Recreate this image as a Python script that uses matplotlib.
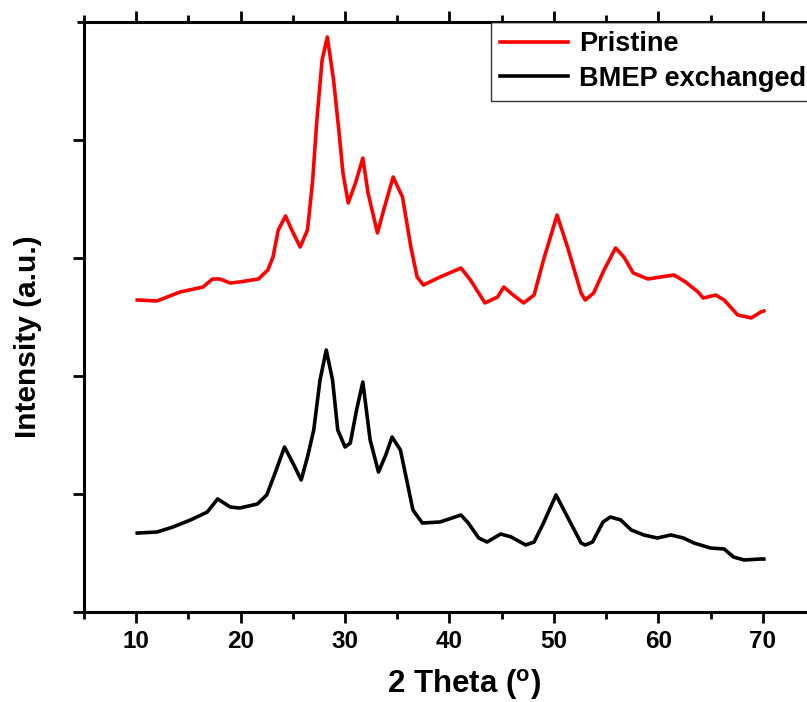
import matplotlib
matplotlib.use('Agg')
import matplotlib.pyplot as plt
from matplotlib.ticker import MultipleLocator, FixedLocator

plt.rcParams['font.family'] = ['Liberation Sans', 'DejaVu Sans']
plt.rcParams['font.weight'] = 'bold'
plt.rcParams['mathtext.default'] = 'regular'

# 2 theta positions and intensities (arbitrary units)
theta_pristine = [10.1, 12.0, 14.2, 16.4, 17.3, 18.0, 19.0, 19.9, 21.7, 22.6, 23.1, 23.6,
                  24.3, 24.9, 25.7, 26.4, 26.9, 27.3, 27.8, 28.3, 28.9, 29.4, 29.8, 30.3,
                  31.0, 31.7, 32.2, 33.1, 33.7, 34.6, 35.5, 36.3, 36.9, 37.5, 39.1, 41.1,
                  42.0, 43.4, 44.6, 45.2, 46.1, 47.1, 48.1, 49.0, 50.3, 51.3, 52.6, 53.0,
                  53.8, 54.8, 55.9, 56.7, 57.6, 59.0, 60.2, 61.5, 62.6, 63.8, 64.3, 65.5,
                  66.3, 67.6, 68.9, 69.8, 70.1]
int_pristine = [2.644, 2.636, 2.712, 2.754, 2.822, 2.822, 2.788, 2.797, 2.822, 2.898, 3.008, 3.237,
                3.356, 3.237, 3.093, 3.237, 3.661, 4.169, 4.678, 4.873, 4.508, 4.085, 3.720, 3.466,
                3.636, 3.847, 3.551, 3.212, 3.407, 3.686, 3.517, 3.093, 2.839, 2.771, 2.839, 2.915,
                2.814, 2.619, 2.669, 2.754, 2.686, 2.619, 2.686, 2.983, 3.364, 3.093, 2.703, 2.644,
                2.703, 2.898, 3.085, 3.008, 2.873, 2.822, 2.839, 2.856, 2.797, 2.712, 2.661, 2.686,
                2.644, 2.517, 2.492, 2.542, 2.551]

theta_bmep = [10.1, 12.0, 13.5, 15.2, 16.8, 17.8, 19.0, 19.9, 21.6, 22.5, 23.3, 24.2,
              25.0, 25.8, 26.4, 27.0, 27.6, 28.2, 28.8, 29.3, 30.0, 30.5, 31.1, 31.7,
              32.4, 33.2, 33.9, 34.5, 35.3, 36.5, 37.4, 39.1, 41.1, 41.8, 42.8, 43.6,
              44.9, 45.9, 47.3, 48.1, 49.0, 50.2, 51.3, 52.6, 53.0, 53.7, 54.7, 55.4,
              56.4, 57.4, 58.6, 59.9, 61.2, 62.4, 63.4, 65.0, 66.3, 67.2, 68.2, 69.8, 70.1]
int_bmep = [0.669, 0.678, 0.720, 0.780, 0.847, 0.958, 0.890, 0.881, 0.915, 0.992, 1.178, 1.398,
            1.263, 1.119, 1.314, 1.542, 1.966, 2.220, 1.966, 1.542, 1.398, 1.432, 1.712, 1.949,
            1.458, 1.186, 1.331, 1.483, 1.373, 0.864, 0.754, 0.763, 0.822, 0.754, 0.627, 0.593,
            0.661, 0.636, 0.568, 0.593, 0.754, 0.992, 0.805, 0.585, 0.568, 0.593, 0.763, 0.805,
            0.780, 0.695, 0.653, 0.627, 0.653, 0.627, 0.585, 0.542, 0.534, 0.466, 0.441, 0.449, 0.449]

fig = plt.figure(figsize=(8.07, 7.02), dpi=100)
# plot frame runs a little past the right edge of the picture, as in the original crop
ax = fig.add_axes([84 / 807, 90 / 702, 731 / 807, 590 / 702])

ax.plot(theta_pristine, int_pristine, color='red', lw=2.6, label='Pristine')
ax.plot(theta_bmep, int_bmep, color='black', lw=2.6, label='BMEP exchanged')

ax.set_xlim(5, 75)
ax.set_ylim(0, 5)
ax.xaxis.set_major_locator(MultipleLocator(10))
ax.xaxis.set_minor_locator(MultipleLocator(5))
ax.yaxis.set_major_locator(FixedLocator([0, 1, 2, 3, 4]))
ax.yaxis.set_minor_locator(FixedLocator([5]))
ax.set_yticklabels([])
ax.tick_params(axis='x', which='both', direction='out', top=True, labelsize=17.5, pad=5)
ax.tick_params(which='major', length=8, width=2)
ax.tick_params(which='minor', length=5, width=2)
ax.tick_params(axis='y', which='both', right=False)
for s in ax.spines.values():
    s.set_linewidth(2.2)

ax.set_xlabel('2 Theta ($^{o}$)', fontsize=22.5, fontweight='bold')
ax.xaxis.set_label_coords((464 - 84) / 731, -0.094)
ax.set_ylabel('Intensity (a.u.)', fontsize=21.5, fontweight='bold')
ax.yaxis.set_label_coords(-0.058, (612 - 337) / 590)

leg = ax.legend(loc='upper left', bbox_to_anchor=((491 - 84) / 731, 1.0), borderaxespad=0,
                fancybox=False, edgecolor='black', fontsize=19.5, handlelength=2.5,
                labelspacing=0.3, borderpad=0.35, handletextpad=0.4)
leg.get_frame().set_linewidth(1.0)
for t in leg.get_texts():
    t.set_fontweight('bold')

fig.savefig('out.png', dpi=100)
